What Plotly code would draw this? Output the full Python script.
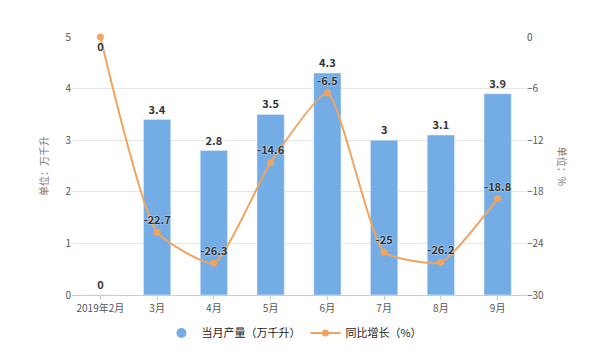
import plotly.graph_objects as go

categories = ["2019年2月", "3月", "4月", "5月", "6月", "7月", "8月", "9月"]
production = [0, 3.4, 2.8, 3.5, 4.3, 3, 3.1, 3.9]
growth = [0, -22.7, -26.3, -14.6, -6.5, -25, -26.2, -18.8]
bar_name = "当月产量（万千升）"
line_name = "同比增长（%）"

BAR_C = "#74ade6"
LINE_C = "#f2a35e"
FONT = "Noto Sans CJK SC"

fig = go.Figure()
fig.add_trace(go.Bar(
    x=categories, y=production, name=bar_name, marker_color=BAR_C,
    width=0.48, text=[str(v) for v in production], textposition="outside",
    textfont=dict(family=FONT, size=11, color="#333333", weight="bold"),
    cliponaxis=False, showlegend=False, yaxis="y"))
fig.add_trace(go.Scatter(
    x=[None], y=[None], mode="markers", name=bar_name,
    marker=dict(color=BAR_C, size=10, symbol="circle"), yaxis="y"))
positions = ["bottom center"] + ["top center"] * (len(growth) - 1)
fig.add_trace(go.Scatter(
    x=categories, y=growth, name=line_name, mode="lines+markers+text",
    line=dict(color=LINE_C, width=2, shape="spline", smoothing=0.5),
    marker=dict(color=LINE_C, size=7),
    text=[("%g" % v) for v in growth], textposition=positions,
    textfont=dict(family=FONT, size=11, color="#333333", weight="bold",
                  shadow="0px 0px 2px white"),
    cliponaxis=False, yaxis="y2"))

fig.update_layout(
    width=583, height=348,
    margin=dict(l=64, r=65, t=29, b=61, autoexpand=False),
    plot_bgcolor="white", paper_bgcolor="white",
    font=dict(family=FONT, size=10, color="#666666"),
    xaxis=dict(showgrid=False, showline=True, linecolor="#cccccc",
               ticks="outside", ticklen=4, tickcolor="#cccccc",
               tickfont=dict(size=10, color="#555555"), automargin=False),
    yaxis=dict(range=[0, 5], dtick=1, showgrid=True, gridcolor="#e6e6e6",
               zeroline=False, showline=False, automargin=False,
               tickfont=dict(size=10, color="#555555")),
    yaxis2=dict(range=[-30, 0], dtick=6, overlaying="y", side="right",
                showgrid=False, zeroline=False, showline=False, automargin=False,
                tickfont=dict(size=10, color="#555555")),
    legend=dict(orientation="h", x=0.49, xanchor="center", y=-0.147, yanchor="middle",
                font=dict(size=11, color="#222222"), itemwidth=30),
    annotations=[
        dict(text="单位：万千升", xref="paper", yref="paper", x=-0.064, y=0.5,
             xanchor="center", yanchor="middle",
             textangle=-90, showarrow=False, font=dict(size=10, color="#777777")),
        dict(text="单位：%", xref="paper", yref="paper", x=1.082, y=0.5,
             xanchor="center", yanchor="middle",
             textangle=90, showarrow=False, font=dict(size=10, color="#777777")),
    ],
)

fig.write_html("out.html")
